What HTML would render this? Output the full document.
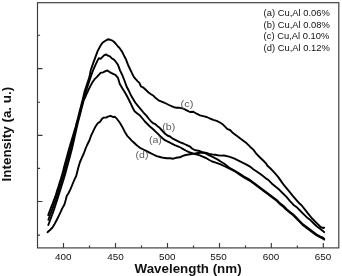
<!DOCTYPE html>
<html><head><meta charset="utf-8"><style>
html,body{margin:0;padding:0;background:#fff;width:342px;height:276px;overflow:hidden}
svg{display:block;filter:grayscale(1) blur(0.35px)}
text{font-family:"Liberation Sans",sans-serif;fill:#111}
.lb text{fill:#5a5a5a}
</style></head><body>
<svg width="342" height="276" viewBox="0 0 342 276">
<g stroke="#3a3a3a" stroke-width="1.15" fill="none">
<rect x="37.5" y="2.7" width="301.3" height="245.2"/>
<path d="M37.5 35.25h2.6M37.5 68.65h5M37.5 102.2h2.6M37.5 135.4h5M37.5 168.3h2.6M37.5 201.5h5M37.5 235.1h2.6"/>
<path d="M63.5 248v-5M89.5 248v-2.5M115.5 248v-5M141.5 248v-2.5M167.5 248v-5M193.5 248v-2.5M219.5 248v-5M245.5 248v-2.5M271.3 248v-5M297.3 248v-2.5M323.3 248v-5"/>
</g>
<g stroke="#000" stroke-width="1.9" fill="none" stroke-linejoin="round" stroke-linecap="round">
<path d="M48.2 215.1 L49.7 211.1 L51.2 207.1 L52.8 203.1 L54.3 199.1 L55.8 195.1 L57.0 191.1 L58.3 187.1 L59.5 183.1 L60.8 179.1 L62.0 175.1 L63.1 171.1 L64.1 167.1 L65.2 163.1 L66.3 159.1 L67.4 155.1 L68.5 151.1 L69.6 147.1 L70.8 143.1 L72.0 139.1 L73.2 135.1 L74.4 131.1 L75.6 127.1 L76.6 123.1 L77.7 119.1 L78.7 115.1 L79.7 111.1 L80.8 107.1 L81.8 103.1 L82.6 100.0 L84.5 91.9 L86.9 84.5 L89.4 77.1 L90.8 70.0 L93.2 63.1 L95.7 56.3 L97.5 51.4 L99.4 47.7 L101.2 44.6 L102.5 42.8 L104.3 41.5 L106.2 40.3 L108.0 39.3 L109.9 39.7 L111.7 40.3 L113.6 41.5 L116.0 44.0 L118.0 46.5 L119.7 48.2 L120.9 50.0 L122.2 51.9 L123.4 54.3 L124.6 56.8 L125.9 59.2 L127.1 62.3 L128.3 65.5 L129.5 68.0 L132.2 73.6 L133.8 76.8 L135.7 79.2 L137.5 81.1 L139.4 82.9 L141.0 86.5 L143.5 87.7 L146.0 90.0 L148.5 92.5 L151.0 94.2 L153.5 95.8 L156.0 98.3 L158.5 100.3 L161.0 101.3 L163.5 102.3 L166.0 103.5 L169.0 105.0 L172.0 106.3 L174.0 107.2 L176.7 107.8 L180.0 107.8 L183.3 108.7 L186.7 110.3 L190.0 112.0 L193.3 111.7 L196.7 113.7 L200.0 115.3 L203.3 116.2 L206.7 117.0 L210.0 118.5 L213.3 119.8 L216.7 120.8 L220.0 122.5 L222.5 124.2 L225.0 126.7 L227.5 129.2 L230.0 130.0 L233.3 133.3 L236.7 135.8 L240.0 138.3 L243.3 140.8 L246.7 143.3 L250.0 146.7 L253.3 149.6 L256.7 154.2 L260.0 157.5 L263.7 161.0 L266.0 163.3 L267.2 165.5 L270.5 168.5 L274.2 172.3 L277.9 176.6 L280.9 180.9 L284.0 185.2 L287.1 188.9 L290.2 192.6 L293.2 196.3 L296.9 200.6 L298.3 202.2 L301.7 205.5 L305.0 209.7 L308.3 213.8 L311.7 218.0 L315.0 221.3 L318.3 224.7 L320.8 227.2 L323.3 228.0 L324.2 227.7"/>
<path d="M48.4 219.8 L49.8 215.8 L51.3 211.8 L52.8 207.8 L54.2 203.8 L55.7 199.8 L57.0 195.8 L58.2 191.8 L59.5 187.8 L60.8 183.8 L62.0 179.8 L63.3 175.8 L64.3 171.8 L65.4 167.8 L66.5 163.8 L67.6 159.8 L68.6 155.8 L69.7 151.8 L70.8 147.8 L71.8 143.8 L72.9 139.8 L73.9 135.8 L74.9 131.8 L76.0 127.8 L77.0 123.8 L78.1 119.8 L79.1 115.8 L80.1 111.8 L81.2 107.8 L82.2 103.8 L83.2 100.0 L85.7 91.9 L88.2 84.5 L90.6 77.1 L93.2 70.0 L95.7 64.3 L97.5 60.6 L98.8 58.2 L100.6 58.8 L102.5 56.9 L104.3 55.1 L106.2 54.5 L108.0 55.7 L109.9 56.3 L111.7 58.2 L113.6 59.4 L115.4 61.2 L117.3 63.7 L118.0 64.9 L120.0 70.3 L122.5 75.5 L124.8 81.5 L126.6 86.5 L129.1 91.3 L130.9 95.2 L132.8 98.5 L135.2 102.5 L137.7 105.7 L140.2 108.6 L142.6 111.5 L144.3 113.5 L146.2 115.4 L148.6 118.5 L151.1 121.5 L153.5 123.4 L155.4 124.2 L157.2 125.9 L159.7 127.8 L162.5 131.0 L164.9 133.5 L167.4 135.5 L169.9 136.5 L172.3 138.3 L174.8 139.6 L177.2 140.8 L180.3 142.3 L183.4 143.5 L186.5 145.0 L189.6 146.3 L192.0 148.5 L194.2 149.8 L197.0 150.5 L199.8 151.0 L202.6 152.3 L204.5 153.0 L206.5 153.9 L209.3 155.3 L212.2 156.7 L215.0 158.2 L217.8 159.6 L220.6 161.5 L224.0 163.5 L229.0 167.5 L234.0 170.3 L239.0 173.3 L244.0 176.6 L250.0 179.9 L253.3 182.4 L256.7 184.9 L260.0 187.4 L263.3 189.9 L266.7 192.4 L270.0 194.9 L273.3 197.4 L276.7 199.9 L280.0 203.3 L283.3 205.8 L286.7 209.1 L290.0 211.9 L293.3 214.4 L296.7 217.9 L300.0 221.3 L303.3 224.6 L306.7 227.1 L310.0 229.6 L313.3 232.1 L316.7 234.6 L320.0 236.3 L323.3 237.9 L324.2 238.8"/>
<path d="M48.3 225.0 L49.8 221.0 L51.3 217.0 L52.8 213.0 L54.2 209.0 L55.5 205.0 L56.8 201.0 L58.1 197.0 L59.3 193.0 L60.6 189.0 L61.8 185.0 L63.1 181.0 L64.3 177.0 L65.5 173.0 L66.5 169.0 L67.6 165.0 L68.7 161.0 L69.8 157.0 L70.8 153.0 L71.9 149.0 L72.8 145.0 L73.7 141.0 L74.6 137.0 L75.5 133.0 L76.4 129.0 L77.3 125.0 L78.3 121.0 L79.4 117.0 L80.4 113.0 L81.4 109.0 L82.5 105.0 L83.5 101.0 L83.8 100.0 L85.2 97.3 L86.8 93.5 L88.4 90.0 L90.6 85.6 L92.6 82.0 L94.6 79.2 L96.5 77.3 L98.8 74.8 L100.6 72.9 L103.1 72.3 L105.5 71.1 L107.4 70.5 L109.2 71.7 L111.1 72.9 L113.6 74.2 L115.4 74.8 L118.0 77.9 L119.8 84.0 L122.3 88.3 L124.8 92.2 L127.2 96.5 L129.1 100.2 L130.9 103.9 L132.8 108.0 L134.6 111.2 L137.3 113.5 L140.0 115.6 L142.5 118.5 L144.9 121.5 L147.4 124.0 L149.9 126.5 L152.3 128.5 L154.8 130.8 L157.2 133.2 L160.0 135.9 L162.5 138.3 L164.9 140.2 L167.4 141.4 L169.9 142.6 L172.3 143.9 L174.8 145.1 L177.9 146.3 L180.5 147.5 L182.8 148.8 L185.7 150.5 L188.5 151.8 L191.3 152.8 L194.2 153.8 L197.0 154.5 L199.8 155.4 L202.6 156.6 L206.0 158.0 L209.3 160.0 L212.2 161.5 L215.0 162.4 L217.8 163.3 L220.6 164.3 L224.0 166.0 L229.0 168.3 L234.0 170.8 L239.0 174.2 L244.0 177.5 L250.0 180.8 L253.3 183.3 L256.7 185.8 L260.0 188.3 L263.3 190.8 L266.7 193.3 L270.0 195.8 L273.3 198.3 L276.7 200.8 L280.0 204.2 L283.3 206.7 L286.7 210.0 L290.0 212.8 L293.3 215.3 L296.7 218.8 L300.0 222.2 L303.3 225.5 L306.7 228.0 L310.0 230.5 L313.3 233.0 L316.7 235.5 L320.0 237.2 L323.3 238.8 L324.2 239.7"/>
<path d="M47.5 232.2 L50.0 230.0 L52.5 227.5 L54.6 224.0 L56.7 220.0 L58.8 215.8 L60.8 211.7 L62.3 208.2 L63.5 206.3 L64.6 204.0 L65.7 200.0 L66.7 196.0 L68.6 193.0 L70.5 189.2 L72.4 184.5 L74.3 179.8 L76.2 176.0 L78.2 168.0 L80.0 162.0 L81.9 157.7 L83.8 153.5 L85.7 148.3 L87.1 145.0 L89.6 140.0 L91.2 135.3 L92.7 132.3 L94.2 129.2 L95.7 126.2 L97.7 123.2 L100.3 121.6 L101.8 119.1 L103.8 117.6 L105.9 117.6 L108.0 116.6 L110.5 115.8 L113.0 117.0 L114.7 116.7 L117.2 119.2 L119.7 122.5 L122.2 126.7 L124.7 131.7 L127.2 135.8 L129.7 138.3 L132.0 141.0 L133.3 142.0 L136.7 145.3 L140.0 147.8 L143.3 149.5 L146.7 151.2 L150.0 152.8 L153.3 154.5 L156.7 156.2 L160.0 157.0 L163.3 157.8 L166.7 158.3 L170.0 158.3 L173.3 158.7 L176.0 157.8 L180.0 157.3 L182.8 155.9 L185.7 155.0 L188.5 154.5 L191.3 154.0 L195.0 153.5 L198.0 153.0 L203.7 152.5 L206.5 153.0 L209.3 153.9 L212.2 154.4 L215.0 154.8 L217.8 155.3 L220.6 155.6 L224.0 155.5 L229.0 156.7 L234.0 158.3 L239.0 160.8 L244.0 163.3 L247.0 164.9 L250.0 166.6 L253.3 169.2 L256.7 171.5 L260.0 173.8 L263.3 176.3 L266.7 178.9 L268.0 179.7 L271.7 183.4 L275.4 186.5 L279.1 189.6 L282.8 193.2 L286.5 196.9 L289.6 200.6 L293.3 204.7 L296.7 207.2 L300.0 210.5 L303.3 213.8 L306.7 217.2 L310.0 219.7 L313.3 223.0 L316.7 226.3 L320.0 228.8 L323.3 231.3 L324.2 232.2"/>
</g>
<g font-size="9.9" text-anchor="middle">
<text x="63.3" y="260.4">400</text>
<text x="115.6" y="260.4">450</text>
<text x="167.3" y="260.4">500</text>
<text x="218.6" y="260.4">550</text>
<text x="271.1" y="260.4">600</text>
<text x="323" y="260.4">650</text>
</g>
<text x="134.6" y="273.1" font-size="12" font-weight="bold" textLength="107" lengthAdjust="spacingAndGlyphs">Wavelength (nm)</text>
<text transform="translate(10.6,181.4) rotate(-90)" font-size="12" font-weight="bold" textLength="94.6" lengthAdjust="spacingAndGlyphs">Intensity (a. u.)</text>
<g font-size="9.7">
<text x="263.6" y="15.9" textLength="66.2" lengthAdjust="spacingAndGlyphs">(a) Cu,Al 0.06%</text>
<text x="263.6" y="28.0" textLength="66.2" lengthAdjust="spacingAndGlyphs">(b) Cu,Al 0.08%</text>
<text x="263.6" y="39.4" textLength="65.7" lengthAdjust="spacingAndGlyphs">(c) Cu,Al 0.10%</text>
<text x="263.6" y="50.8" textLength="66.2" lengthAdjust="spacingAndGlyphs">(d) Cu,Al 0.12%</text>
</g>
<g font-size="9.8" class="lb">
<text x="180.6" y="107" textLength="13" lengthAdjust="spacingAndGlyphs">(c)</text>
<text x="162.3" y="129.8" textLength="13" lengthAdjust="spacingAndGlyphs">(b)</text>
<text x="148.9" y="143" textLength="13" lengthAdjust="spacingAndGlyphs">(a)</text>
<text x="135.6" y="158.3" textLength="12.8" lengthAdjust="spacingAndGlyphs">(d)</text>
</g>
</svg>
</body></html>
